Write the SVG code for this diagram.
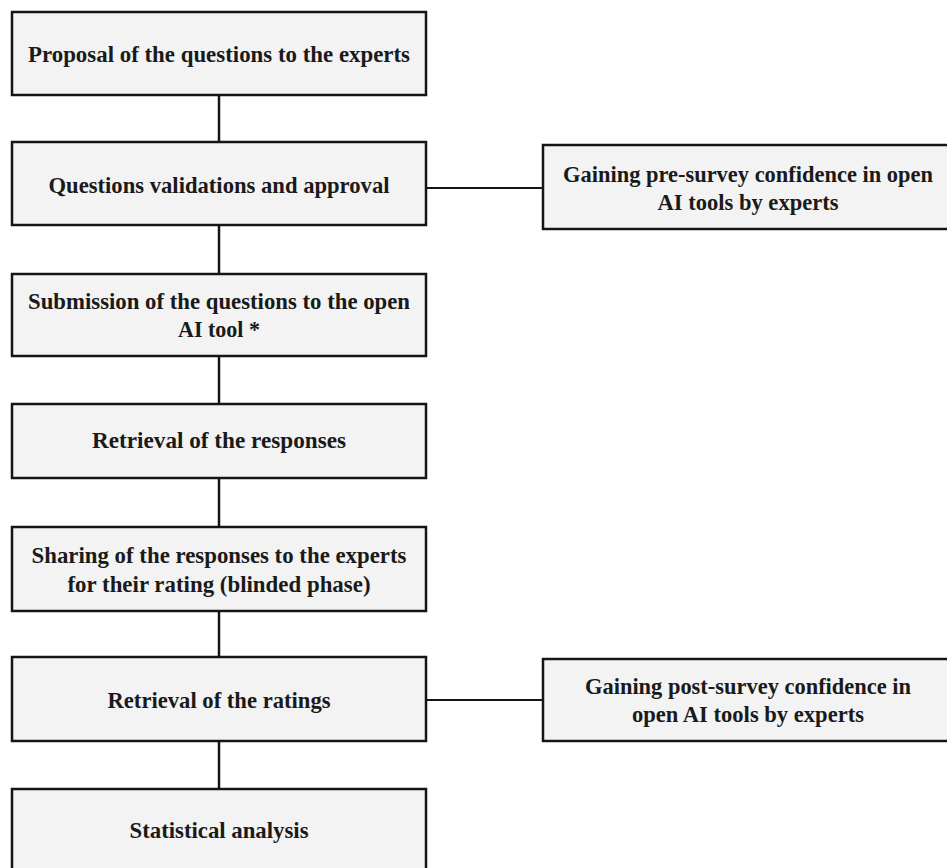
<svg xmlns="http://www.w3.org/2000/svg" width="947" height="868" viewBox="0 0 947 868">
<style>
.box{fill:#f3f3f3;stroke:#151515;stroke-width:2.5}
.t{font-family:"Liberation Serif","Times New Roman",serif;font-weight:bold;font-size:23px;fill:#1a1a1a;text-anchor:middle}
.c{stroke:#151515;fill:none}
</style>
<rect x="0" y="0" width="947" height="868" fill="#ffffff"/>
<g id="connectors">
<line class="c" stroke-width="2.5" x1="219" y1="95" x2="219" y2="142"/>
<line class="c" stroke-width="2.5" x1="219" y1="225" x2="219" y2="274"/>
<line class="c" stroke-width="2.5" x1="219" y1="356" x2="219" y2="404"/>
<line class="c" stroke-width="2.5" x1="219" y1="478" x2="219" y2="527"/>
<line class="c" stroke-width="2.5" x1="219" y1="611" x2="219" y2="657"/>
<line class="c" stroke-width="2.5" x1="219" y1="741" x2="219" y2="789"/>
<line class="c" stroke-width="1.8" x1="426" y1="188" x2="543" y2="188"/>
<line class="c" stroke-width="1.8" x1="426" y1="700" x2="543" y2="700"/>
</g>
<g id="n1"><rect class="box" x="12" y="12" width="414" height="83"/>
<text class="t" x="219" y="62" textLength="382" lengthAdjust="spacingAndGlyphs">Proposal of the questions to the experts</text></g>
<g id="n2"><rect class="box" x="12" y="142" width="414" height="83"/>
<text class="t" x="219" y="193" textLength="341" lengthAdjust="spacingAndGlyphs">Questions validations and approval</text></g>
<g id="n3"><rect class="box" x="12" y="274" width="414" height="82"/>
<text class="t" x="219" y="309" textLength="382" lengthAdjust="spacingAndGlyphs">Submission of the questions to the open</text>
<text class="t" x="219" y="337" textLength="82" lengthAdjust="spacingAndGlyphs">AI tool *</text></g>
<g id="n4"><rect class="box" x="12" y="404" width="414" height="74"/>
<text class="t" x="219" y="448" textLength="254" lengthAdjust="spacingAndGlyphs">Retrieval of the responses</text></g>
<g id="n5"><rect class="box" x="12" y="527" width="414" height="84"/>
<text class="t" x="219" y="563" textLength="375" lengthAdjust="spacingAndGlyphs">Sharing of the responses to the experts</text>
<text class="t" x="219" y="592" textLength="303" lengthAdjust="spacingAndGlyphs">for their rating (blinded phase)</text></g>
<g id="n6"><rect class="box" x="12" y="657" width="414" height="84"/>
<text class="t" x="219" y="708" textLength="223" lengthAdjust="spacingAndGlyphs">Retrieval of the ratings</text></g>
<g id="n7"><rect class="box" x="12" y="789" width="414" height="90"/>
<text class="t" x="219" y="838" textLength="179" lengthAdjust="spacingAndGlyphs">Statistical analysis</text></g>
<g id="r1"><rect class="box" x="543" y="145" width="412" height="84"/>
<text class="t" x="748" y="182" textLength="370" lengthAdjust="spacingAndGlyphs">Gaining pre-survey confidence in open</text>
<text class="t" x="748" y="210" textLength="181" lengthAdjust="spacingAndGlyphs">AI tools by experts</text></g>
<g id="r2"><rect class="box" x="543" y="659" width="412" height="82"/>
<text class="t" x="748" y="694" textLength="326" lengthAdjust="spacingAndGlyphs">Gaining post-survey confidence in</text>
<text class="t" x="748" y="722" textLength="232" lengthAdjust="spacingAndGlyphs">open AI tools by experts</text></g>
</svg>
